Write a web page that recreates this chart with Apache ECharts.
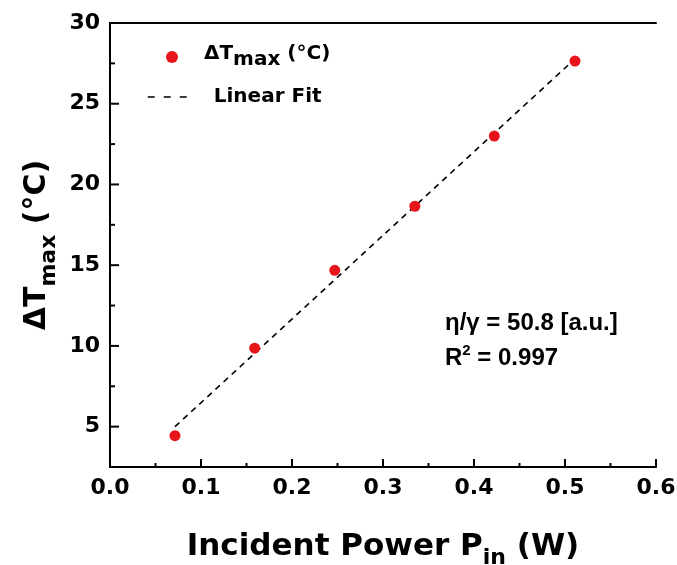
<!DOCTYPE html>
<html>
<head>
<meta charset="utf-8">
<script src="https://cdn.jsdelivr.net/npm/echarts@6/dist/echarts.min.js"></script>
<style>
html,body{margin:0;padding:0;background:#fff;}
#chart{width:677px;height:565px;}
</style>
</head>
<body>
<div id="chart"></div>
<script>
// ---- data ----
const powerIn = [0.0714, 0.159, 0.247, 0.335, 0.4223, 0.511];
const deltaTmax = [4.44, 9.86, 14.68, 18.65, 23.0, 27.64];
const fitPower = [0.0714, 0.511];
const fitDeltaT = [5.0, 27.78];
const yMajorTicks = [5, 10, 15, 20, 25, 30];
const yMinorTicks = [7.5, 12.5, 17.5, 22.5, 27.5];
const xMajorTicks = [0, 0.1, 0.2, 0.3, 0.4, 0.5, 0.6];
const xMinorTicks = [0.05, 0.15, 0.25, 0.35, 0.45, 0.55];
const annotation1 = 'η/γ = 50.8 [a.u.]';
const annotation2 = '{a|R}{b|2}{a| = 0.997}';

const X_MIN = 0, X_MAX = 0.6, Y_MIN = 2.5, Y_MAX = 30;

const pts = powerIn.map((x, i) => [x, deltaTmax[i]]);
const fitPts = fitPower.map((x, i) => [x, fitDeltaT[i]]);

const WIDE = '"DejaVu Sans", sans-serif';
const ARIAL = 'Arial, "Liberation Sans", sans-serif';
const BLACK = '#000';

function plainAxis(extra) {
  return Object.assign({
    type: 'value', offset: 0,
    axisLine: {show: false},
    axisTick: {show: false},
    axisLabel: {show: false},
    splitLine: {show: false}
  }, extra);
}
const frameLine = {show: true, lineStyle: {color: BLACK, width: 2}};

// ticks drawn through the axis scales, pointing into the plot
function tickSeries(data, dx, dy) {
  return {
    type: 'custom', silent: true, clip: false, z: 10, xAxisIndex: 0, yAxisIndex: 0,
    data: data,
    renderItem: (params, api) => {
      const p = api.coord([api.value(0), api.value(1)]);
      return {type: 'line', shape: {x1: p[0], y1: p[1], x2: p[0] + dx, y2: p[1] + dy},
              style: {stroke: BLACK, lineWidth: 2}};
    }
  };
}

const chart = echarts.init(document.getElementById('chart'));
chart.setOption({
  animation: false,
  backgroundColor: '#fff',
  grid: {left: 110, right: 21, top: 23, bottom: 98, containLabel: false, outerBoundsMode: 'none'},
  xAxis: [plainAxis({
    min: X_MIN, max: X_MAX, interval: 0.1, position: 'bottom',
    axisLine: frameLine,
    axisLabel: {show: true, margin: 10, color: BLACK, fontFamily: WIDE, fontWeight: 'bold', fontSize: 22, formatter: v => v.toFixed(1)},
    name: '{a|Incident Power P}{b|in}{a| (W)}',
    nameLocation: 'middle', nameGap: 70, nameMoveOverlap: false,
    nameTextStyle: {
      color: BLACK,
      rich: {
        a: {fontFamily: WIDE, fontWeight: 'bold', fontSize: 31, lineHeight: 31, color: BLACK, padding: [0, 0, 12, 0]},
        b: {fontFamily: WIDE, fontWeight: 'bold', fontSize: 22, lineHeight: 22, color: BLACK, padding: [12, 0, 0, 0]}
      }
    }
  }), plainAxis({
    min: X_MIN, max: X_MAX, interval: 0.1, position: 'top',
    axisLine: frameLine
  })],
  yAxis: [plainAxis({
    min: Y_MIN, max: Y_MAX, position: 'left',
    axisLine: frameLine,
    axisLabel: {show: true, margin: 10, customValues: yMajorTicks, color: BLACK, fontFamily: WIDE, fontWeight: 'bold', fontSize: 22},
    name: '{a|ΔT}{b|max}{a| (°C)}',
    nameLocation: 'middle', nameGap: 52, nameMoveOverlap: false,
    nameTextStyle: {
      color: BLACK,
      rich: {
        a: {fontFamily: WIDE, fontWeight: 'bold', fontSize: 30, lineHeight: 30, color: BLACK, padding: [0, 0, 12, 0]},
        b: {fontFamily: WIDE, fontWeight: 'bold', fontSize: 22, lineHeight: 22, color: BLACK, padding: [12, 0, 0, 0]}
      }
    }
  }), plainAxis({
    min: Y_MIN, max: Y_MAX, position: 'right',
    axisLine: frameLine
  })],
  legend: [{
    data: [{name: 'dT', icon: 'circle'}],
    left: 166, top: 44, padding: 0,
    itemWidth: 12, itemHeight: 12,
    formatter: () => '{g|}{a|ΔT}{b|max}{a| (°C)}',
    textStyle: {
      color: BLACK,
      rich: {
        g: {width: 21},
        a: {fontFamily: WIDE, fontWeight: 'bold', fontSize: 20, lineHeight: 20, color: BLACK, padding: [0, 0, 6, 0]},
        b: {fontFamily: WIDE, fontWeight: 'bold', fontSize: 20, lineHeight: 20, color: BLACK, padding: [6, 0, 0, 0]}
      }
    }
  }, {
    data: ['fit'],
    left: 147, top: 87, padding: 0,
    itemWidth: 41, itemHeight: 12,
    itemStyle: {opacity: 0},
    lineStyle: {type: [7, 9], width: 1.5, color: BLACK},
    formatter: () => '{g|}{a|Linear Fit}',
    textStyle: {
      color: BLACK,
      rich: {
        g: {width: 20},
        a: {fontFamily: WIDE, fontWeight: 'bold', fontSize: 20, lineHeight: 20, color: BLACK}
      }
    }
  }],
  graphic: [{
    type: 'text', left: 445, top: 311,
    style: {text: annotation1, fill: BLACK, font: 'bold 24px Arial, "Liberation Sans", sans-serif'}
  }, {
    type: 'text', left: 445, top: 339,
    style: {
      text: annotation2, fill: BLACK,
      rich: {
        a: {fontFamily: ARIAL, fontWeight: 'bold', fontSize: 24, lineHeight: 24, fill: BLACK, padding: [7, 0, 0, 0]},
        b: {fontFamily: ARIAL, fontWeight: 'bold', fontSize: 15, lineHeight: 15, fill: BLACK, padding: [0, 0, 7, 0]}
      }
    }
  }],
  series: [{
    name: 'fit', type: 'line', data: fitPts, xAxisIndex: 0, yAxisIndex: 0,
    symbol: 'none', showSymbol: false, z: 2,
    lineStyle: {color: BLACK, width: 1.6, type: [6, 5]},
    itemStyle: {color: BLACK}
  }, {
    name: 'dT', type: 'scatter', data: pts, xAxisIndex: 0, yAxisIndex: 0,
    symbol: 'circle', symbolSize: 11, z: 3,
    itemStyle: {color: '#e8141b', opacity: 1}
  },
    tickSeries(xMajorTicks.map(v => [v, Y_MIN]), 0, -8),
    tickSeries(yMajorTicks.map(v => [X_MIN, v]), 9, 0),
    tickSeries(xMinorTicks.map(v => [v, Y_MIN]), 0, -4),
    tickSeries(yMinorTicks.map(v => [X_MIN, v]), 5, 0)
  ]
});
</script>
</body>
</html>
